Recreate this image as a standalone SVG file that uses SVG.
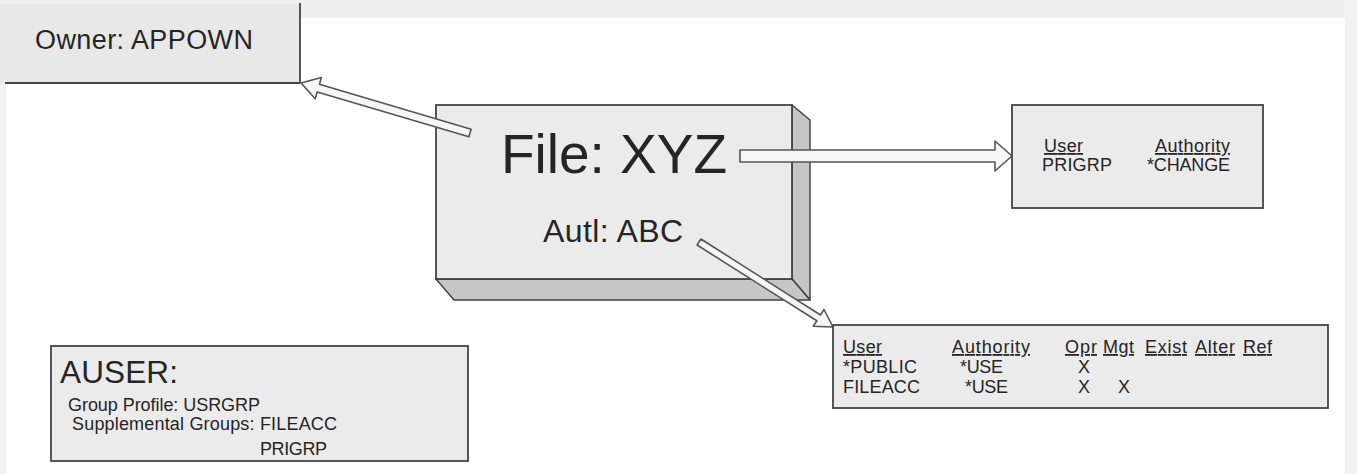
<svg xmlns="http://www.w3.org/2000/svg" width="1357" height="474" viewBox="0 0 1357 474">
<style>
  .t { font-family: "Liberation Sans", Arial, sans-serif; fill: #252525; }
  .s { font-size: 18px; }
  .box { fill: #ebebeb; stroke: #444; stroke-width: 1.8; }
  .face { fill: #c6c6c6; stroke: #444; stroke-width: 1.5; stroke-linejoin: round; }
  .arrow { fill: #f6f6f6; stroke: #555; stroke-width: 1.6; stroke-linejoin: round; }
  .u { text-decoration: underline; }
</style>
<rect x="0" y="0" width="1357" height="474" fill="#ffffff"/>
<rect x="0" y="0" width="1357" height="18" fill="#efefef"/>
<rect x="0" y="0" width="6" height="474" fill="#f2f2f2"/>
<rect x="1345" y="0" width="12" height="474" fill="#f2f2f2"/>

<g id="owner">
  <rect x="0" y="4" width="300" height="79" fill="#e8e8e8"/>
  <line x1="300" y1="3" x2="300" y2="83" stroke="#444" stroke-width="1.8"/>
  <line x1="5" y1="83" x2="300" y2="83" stroke="#444" stroke-width="1.8"/>
  <text class="t" x="35" y="49" font-size="27" textLength="218">Owner: APPOWN</text>
</g>

<g id="file">
  <polygon class="face" points="792,105 810,120 810,300 792,279"/>
  <polygon class="face" points="436,279 792,279 810,300 454,300"/>
  <rect class="box" x="436" y="105" width="356" height="174"/>
  <text class="t" x="501" y="173" font-size="55" fill="#1a1a1a" textLength="226">File: XYZ</text>
  <text class="t" x="543" y="242" font-size="32" textLength="140">Autl: ABC</text>
</g>

<g id="connectors">
  <polygon class="arrow" points="471.1,129.2 319.4,84.3 321.4,77.6 301,83 315.2,98.7 317.2,91.9 468.9,136.8"/>
  <polygon class="arrow" points="740,150 995,150 995,141 1012,156 995,171 995,162 740,162"/>
  <polygon class="arrow" points="697.1,245 816.8,320.8 813.3,326.3 833,327 824,309.5 820.5,315 700.9,239"/>
</g>

<g id="authority-private">
  <rect class="box" x="1012" y="105" width="251" height="103"/>
  <text class="t s u" x="1044" y="152" textLength="39">User</text>
  <text class="t s u" x="1155" y="152" textLength="75">Authority</text>
  <text class="t s" x="1042" y="171" textLength="70">PRIGRP</text>
  <text class="t s" x="1147" y="171" textLength="83">*CHANGE</text>
</g>

<g id="authority-list">
  <rect class="box" x="833" y="325" width="495" height="83"/>
  <text class="t s u" x="843" y="353" textLength="39">User</text>
  <text class="t s u" x="952" y="353" textLength="78">Authority</text>
  <text class="t s u" x="1065" y="353" textLength="32">Opr</text>
  <text class="t s u" x="1103" y="353" textLength="31">Mgt</text>
  <text class="t s u" x="1145" y="353" textLength="42">Exist</text>
  <text class="t s u" x="1195" y="353" textLength="40">Alter</text>
  <text class="t s u" x="1243" y="353" textLength="29">Ref</text>
  <text class="t s" x="843" y="373" textLength="74">*PUBLIC</text>
  <text class="t s" x="960" y="373" textLength="43">*USE</text>
  <text class="t s" x="1078" y="373">X</text>
  <text class="t s" x="843" y="393" textLength="77">FILEACC</text>
  <text class="t s" x="965" y="393" textLength="43">*USE</text>
  <text class="t s" x="1078" y="393">X</text>
  <text class="t s" x="1118" y="393">X</text>
</g>

<g id="auser">
  <rect class="box" x="51" y="346" width="417" height="115"/>
  <text class="t" x="60" y="383" font-size="31.5" textLength="118">AUSER:</text>
  <text class="t s" x="68" y="411" textLength="192">Group Profile: USRGRP</text>
  <text class="t s" x="72" y="430" textLength="265">Supplemental Groups: FILEACC</text>
  <text class="t s" x="260" y="455" textLength="67">PRIGRP</text>
</g>
</svg>
